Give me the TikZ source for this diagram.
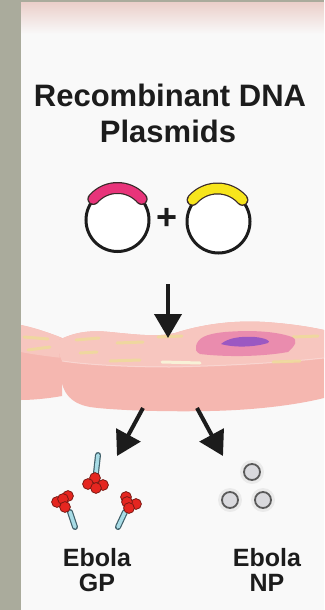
\documentclass[tikz,border=0pt]{standalone}
\usepackage{fontspec}
\setmainfont{Liberation Sans}
\usetikzlibrary{arrows.meta,calc}

\definecolor{frame}{HTML}{AAAB9C}
\definecolor{panel}{HTML}{F9F9F9}
\definecolor{topblush}{HTML}{EBD0CB}
\definecolor{cellside}{HTML}{F5B7B0}
\definecolor{celltop}{HTML}{F7C6BF}
\definecolor{streakcol}{HTML}{EEDB9A}
\definecolor{nucleuscol}{HTML}{EA8CAE}
\definecolor{nucleolus}{HTML}{9B58C2}
\definecolor{magentacol}{HTML}{E8347A}
\definecolor{yellowcol}{HTML}{F7E51C}
\definecolor{arcline}{HTML}{3A2A2A}
\definecolor{stickfill}{HTML}{A8DCE6}
\definecolor{stickline}{HTML}{40606A}
\definecolor{ballcol}{HTML}{E52620}
\definecolor{ballline}{HTML}{7A1A14}
\definecolor{npfill}{HTML}{D9D9DD}
\definecolor{npline}{HTML}{5A5A5A}
\definecolor{ink}{HTML}{1C1C1C}

\tikzset{
  title/.style={anchor=base, text=ink, font=\fontsize{31}{36}\selectfont\bfseries, inner sep=0pt},
  label/.style={anchor=base, text=ink, font=\fontsize{25}{30}\selectfont\bfseries, inner sep=0pt},
  plasmid/.style={circle, draw=ink, line width=3pt, minimum size=63pt, inner sep=0pt, fill=white},
  bigarrow/.style={draw=ink, line width=4pt, -{Triangle[width=27pt,length=24pt]}},
  streak/.style={draw=streakcol, line width=3pt, line cap=round, opacity=0.85},
  stickout/.style={draw=stickline, line width=6pt, line cap=round},
  stickin/.style={draw=stickfill, line width=3.6pt, line cap=round},
  ball/.style={fill=ballcol, draw=ballline, line width=0.8pt},
  npball/.style={circle, fill=npfill, draw=npline, line width=1.8pt, minimum size=16pt, inner sep=0pt},
  bandedge/.style={draw=arcline, line width=12pt, line cap=round},
}

\begin{document}
\begin{tikzpicture}[x=1pt,y=-1pt]
\useasboundingbox (0,0) rectangle (324,610);

% frame and panel
\fill[frame] (0,0) rectangle (324,610);
\fill[panel] (21,3) rectangle (324,610);
\shade[top color=topblush, bottom color=panel] (21,3) rectangle (324,34);

% title
\node[title] (t1) at (170,106) {Recombinant DNA};
\node[title] (t2) at (168,142) {Plasmids};

% plasmids: ring plus a coloured insert band on top
\node[plasmid] (p1) at (117.5,220) {};
\node[plasmid] (p2) at (218.5,221.5) {};
\draw[bandedge]
  plot[domain=41:139, samples=40] ({117.5+32*cos(\x)}, {220-32*sin(\x)});
\draw[magentacol, line width=9.5pt, line cap=round]
  plot[domain=41:139, samples=40] ({117.5+32*cos(\x)}, {220-32*sin(\x)});
\draw[bandedge]
  plot[domain=41:139, samples=40] ({217.5+33*cos(\x)}, {221.5-33*sin(\x)});
\draw[yellowcol, line width=9.5pt, line cap=round]
  plot[domain=41:139, samples=40] ({217.5+33*cos(\x)}, {221.5-33*sin(\x)});
\node[text=ink, font=\fontsize{36}{36}\selectfont\bfseries, inner sep=0pt] (plus) at (167.5,219) {+};

% tissue: neighbouring cell on the left
\fill[cellside] (21,325) .. controls (35,328) and (50,333) .. (62,338)
  -- (62,396) .. controls (45,399) and (30,400) .. (21,400) -- cycle;
\fill[celltop] (21,325) .. controls (35,328) and (50,333) .. (62,338)
  -- (62,358) .. controls (45,356) and (30,354) .. (21,352) -- cycle;

% tissue: main cell body (side) and top face
\fill[cellside] (59,340) .. controls (75,332) and (90,330) .. (110,332)
  .. controls (140,335) and (158,337) .. (175,333)
  .. controls (200,325) and (230,320) .. (265,322)
  .. controls (295,324) and (315,328) .. (324,330)
  -- (324,398) .. controls (300,404) and (260,410) .. (210,411)
  .. controls (160,412) and (110,410) .. (90,407)
  .. controls (68,403) and (61,390) .. (60,370) -- cycle;
\fill[celltop] (59,340) .. controls (75,332) and (90,330) .. (110,332)
  .. controls (140,335) and (158,337) .. (175,333)
  .. controls (200,325) and (230,320) .. (265,322)
  .. controls (295,324) and (315,328) .. (324,330)
  -- (324,358) .. controls (290,362) and (230,366) .. (170,367)
  .. controls (120,367) and (80,364) .. (62,361)
  .. controls (58,353) and (58,346) .. (59,340) -- cycle;
\draw[white, opacity=0.35, line width=1pt] (324,358) .. controls (290,362) and (230,366) .. (170,367)
  .. controls (120,367) and (80,364) .. (62,361);

% yellow streaks on the top faces
\draw[streak] (24,337) -- (48,339);
\draw[streak] (28,350) -- (50,347);
\draw[streak] (76,340) -- (99,338);
\draw[streak] (117,343) -- (143,342);
\draw[streak] (80,353) -- (97,352);
\draw[streak] (110,361) -- (140,360);
\draw[streak] (158,337) -- (182,336);
\draw[streak] (293,337) -- (318,336);
\draw[streak] (273,362) -- (300,361);
\draw[streakcol!40!white, line width=3pt, line cap=round] (162,362) -- (200,363);

% nucleus
\fill[nucleuscol] (196,346) .. controls (198,338) and (205,334) .. (225,332)
  .. controls (250,330) and (275,331) .. (292,337)
  .. controls (298,340) and (296,345) .. (288,352)
  .. controls (260,357) and (225,357) .. (200,354)
  .. controls (196,352) and (195,349) .. (196,346) -- cycle;
\fill[nucleolus] (221,344) .. controls (228,338) and (240,336) .. (255,337)
  .. controls (265,338) and (272,341) .. (268,343)
  .. controls (255,347) and (235,348) .. (221,344) -- cycle;

% arrows
\coordinate (dnS) at (168,284);
\coordinate (dnE) at (168,338);
\draw[bigarrow] (dnS) -- (dnE);
\coordinate (lfS) at (143,408);
\coordinate (lfE) at (117,456);
\draw[bigarrow] (lfS) -- (lfE);
\coordinate (rtS) at (197,408);
\coordinate (rtE) at (223,456);
\draw[bigarrow] (rtS) -- (rtE);

% Ebola GP molecules
\draw[stickout] (98,455) -- (96,473);
\draw[stickin]  (98,455) -- (96,473);
\draw[stickout] (70,512) -- (75,527);
\draw[stickin]  (70,512) -- (75,527);
\draw[stickout] (125,512) -- (118,527);
\draw[stickin]  (125,512) -- (118,527);
\foreach \p in {(95,478),(88,484),(103,485),(96,488)}
  \draw[ball] \p circle[radius=5.4];
\foreach \p in {(68,496),(57,502),(63,499),(65,507)}
  \draw[ball] \p circle[radius=5.4];
\foreach \p in {(126,497),(136,504),(127,502),(129,508)}
  \draw[ball] \p circle[radius=5.4];

% Ebola NP particles
\foreach \p/\n in {(252,472)/np1,(230,500)/np2,(263,500)/np3}{
  \fill[black, opacity=0.06] \p circle[radius=12];
  \node[npball] (\n) at \p {};
}

% labels
\node[label] (gp1) at (97,566) {Ebola};
\node[label] (gp2) at (97,591) {GP};
\node[label] (np1t) at (267,566) {Ebola};
\node[label] (np2t) at (267,591) {NP};
\end{tikzpicture}
\end{document}
